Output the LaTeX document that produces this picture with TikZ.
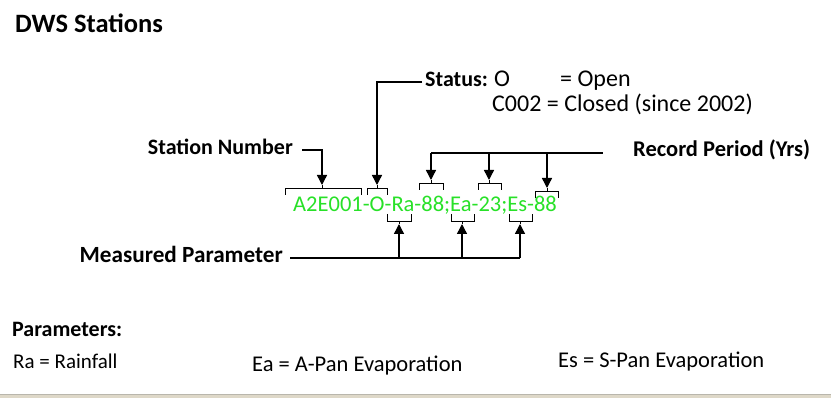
\documentclass[tikz,border=0pt]{standalone}
\usepackage{fontspec}
\setmainfont{Carlito}
\usetikzlibrary{arrows.meta}
\definecolor{codegreen}{RGB}{40,225,40}
\definecolor{bandgray}{RGB}{185,182,172}
\definecolor{bandbeige}{RGB}{222,216,200}
\newcommand\mybrktop[4]{% x1,x2,y,xc : bracket open downward with spike up
  \draw[brk] (#1,#3+7) -- (#1,#3) -- (#2,#3) -- (#2,#3+7);
  \draw[brk] (#4,#3) -- (#4,#3-3);}
\newcommand\mybrkbot[4]{% open upward with spike down
  \draw[brk] (#1,#3-7) -- (#1,#3) -- (#2,#3) -- (#2,#3-7);
  \draw[brk] (#4,#3) -- (#4,#3+3);}
\begin{document}
\begin{tikzpicture}[x=1pt,y=-1pt,
  lblb/.style={font=\bfseries\fontsize{22}{24}\selectfont, inner sep=0pt},
  lblr/.style={font=\fontsize{24}{26}\selectfont, inner sep=0pt},
  parm/.style={font=\fontsize{22.5}{24}\selectfont, inner sep=0pt, anchor=base west},
  conn/.style={line width=1.4pt},
  arr/.style={line width=1.4pt, -{Triangle[length=10pt,width=10pt]}},
  brk/.style={line width=0.9pt}]
\useasboundingbox (0,0) rectangle (831,398);
\fill[white] (0,0) rectangle (831,398);
\fill[bandbeige] (0,395) rectangle (831,398);
\draw[bandgray, line width=1pt] (0,395) -- (831,395);

% title
\node[font=\bfseries\fontsize{26.5}{28}\selectfont, inner sep=0pt, anchor=base west] (title) at (15,33) {DWS Stations};

% labels
\node[lblb, anchor=base east] (stn) at (293,155) {Station Number};
\node[lblb, anchor=base west] (status) at (425,87) {Status:};
\node[lblr, anchor=base west] (o) at (494,87) {O};
\node[lblr, anchor=base west] (open) at (560,87) {= Open};
\node[lblr, anchor=base west] (closed) at (492,112) {C002 = Closed (since 2002)};
\node[lblb, font=\bfseries\fontsize{22.5}{24}\selectfont, anchor=base west] (rec) at (633,157) {Record Period (Yrs)};
\node[lblb, font=\bfseries\fontsize{23.2}{24}\selectfont, anchor=base east] (meas) at (283,263) {Measured Parameter};

% code
\node[font=\fontsize{22.5}{26}\selectfont, text=codegreen, inner sep=0pt, anchor=base west] (code) at (293,212) {A2E001-O-Ra-88;Ea-23;Es-88};

% brackets
\mybrktop{285}{361}{188}{322}
\mybrktop{367}{387}{188}{377}
\mybrktop{419}{443}{183}{431}
\mybrktop{478}{501}{183}{489}
\mybrktop{535}{558}{191}{547}
\mybrkbot{387}{411}{221}{399}
\mybrkbot{451}{474}{221}{462}
\mybrkbot{509}{532}{221}{520}

% coordinates
\coordinate (s0) at (302,150);
\coordinate (s1) at (322,150);
\coordinate (s2) at (322,185);
\coordinate (t0) at (422,82);
\coordinate (t1) at (377,82);
\coordinate (t2) at (377,185);
\coordinate (r0) at (431,153);
\coordinate (r1) at (489,153);
\coordinate (r2) at (547,153);
\coordinate (r3) at (603,153);
\coordinate (ra) at (431,180);
\coordinate (rb) at (489,180);
\coordinate (rc) at (547,188);
\coordinate (m0) at (290,258);
\coordinate (m1) at (399,258);
\coordinate (m2) at (462,258);
\coordinate (m3) at (520,258);
\coordinate (ma) at (399,224);
\coordinate (mb) at (462,224);
\coordinate (mc) at (520,224);

% connectors
\draw[arr] (s0) -- (s1) -- (s2);
\draw[arr] (t0) -- (t1) -- (t2);
\draw[conn] (r0) -- (r2);
\draw[line width=2.4pt] (r2) -- (r3);
\draw[arr] (r0) -- (ra);
\draw[arr] (r1) -- (rb);
\draw[arr] (r2) -- (rc);
\draw[conn] (m0) -- (m3);
\draw[arr] (m1) -- (ma);
\draw[arr] (m2) -- (mb);
\draw[arr] (m3) -- (mc);

% parameters
\node[font=\bfseries\fontsize{22}{24}\selectfont, inner sep=0pt, anchor=base west] (ptitle) at (12,337) {Parameters:};
\node[parm, font=\fontsize{21}{24}\selectfont] (rain) at (13,369) {Ra = Rainfall};
\node[parm] (ea) at (252,372) {Ea = A-Pan Evaporation};
\node[parm] (es) at (558,368) {Es = S-Pan Evaporation};
\end{tikzpicture}
\end{document}
